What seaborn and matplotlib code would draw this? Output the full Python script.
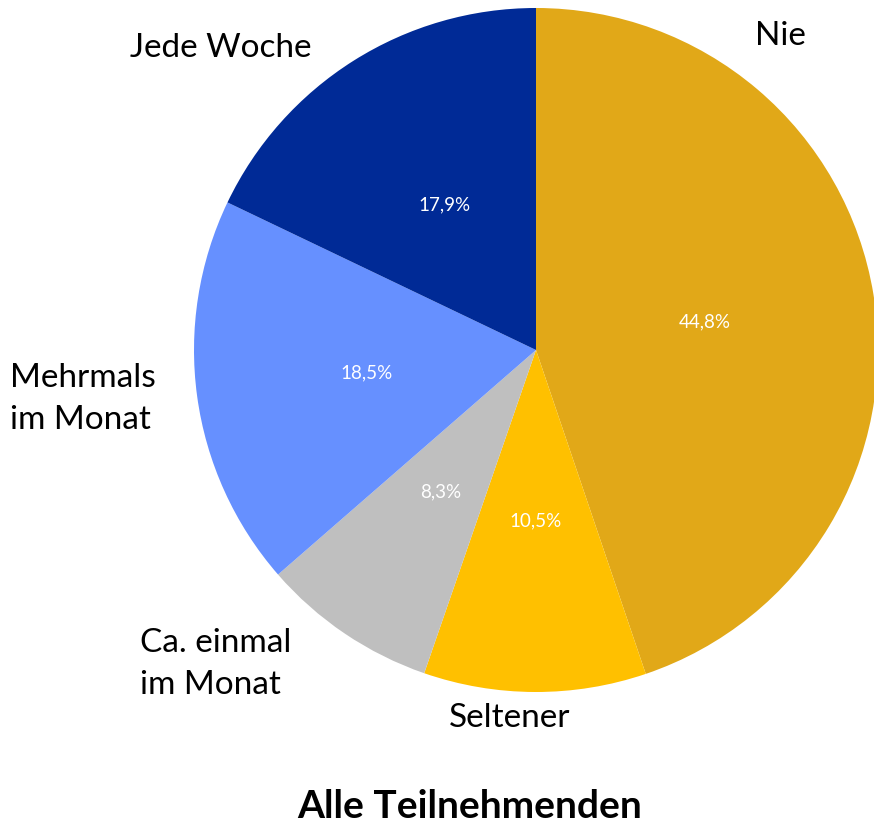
import matplotlib
matplotlib.use("Agg")
import matplotlib.pyplot as plt
import seaborn as sns

sns.set_theme(style="white")
plt.rcParams['font.family'] = ['Lato', 'DejaVu Sans']

# data, clockwise from 12 o'clock
categories = ['Nie', 'Seltener', 'Ca. einmal\nim Monat', 'Mehrmals\nim Monat', 'Jede Woche']
shares = [44.8, 10.5, 8.3, 18.5, 17.9]
colors = ['#E1A818', '#FFC000', '#BFBFBF', '#6690FF', '#002A96']
title = 'Alle Teilnehmenden'

W, H = 874, 827
R = 342.0
CX, CY = 536, 350

fig = plt.figure(figsize=(W / 100, H / 100), dpi=100)
ax = fig.add_axes([0, 0, 1, 1])


def px(x, y):
    # pixel position in the image -> data coords (pie radius = 1)
    return (x - CX) / R, (CY - y) / R


ax.pie(shares, colors=colors, startangle=90, counterclock=False, radius=1,
       autopct=lambda p: f'{p:.1f}%'.replace('.', ','), pctdistance=0.5,
       textprops=dict(color='white', fontsize=13.5),
       wedgeprops=dict(linewidth=0))

ax.set_xlim(-CX / R, (W - CX) / R)
ax.set_ylim((CY - H) / R, CY / R)
ax.set_aspect('equal')
ax.axis('off')

# outside labels, placed like in the original
label_pos = [(780, 36, 'center'), (510, 718, 'center'), (140, 664, 'left'),
             (10, 399, 'left'), (221, 48, 'center')]
for name, (x, y, ha) in zip(categories, label_pos):
    tx, ty = px(x, y)
    ax.text(tx, ty, name, ha=ha, va='center', fontsize=24, color='black',
            linespacing=1.5)

tx, ty = px(470, 806)
ax.text(tx, ty, title, ha='center', va='center', fontsize=28,
        fontweight='bold', color='black')

fig.savefig('out.png', dpi=100)
